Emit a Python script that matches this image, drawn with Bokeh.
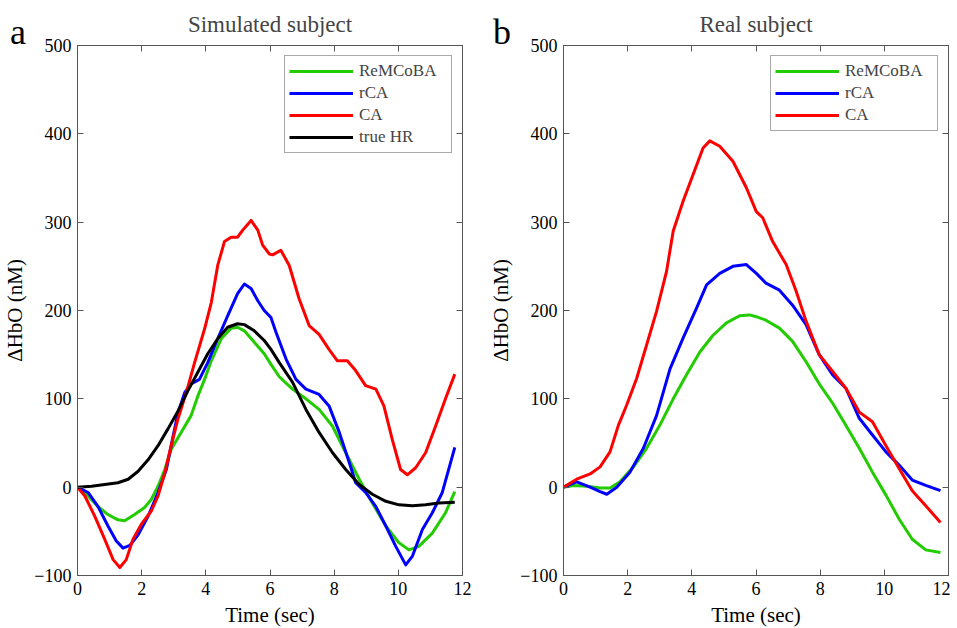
from bokeh.plotting import figure
from bokeh.layouts import row, column
from bokeh.models import (FixedTicker, LinearAxis, Legend, LegendItem, Range1d,
                          CustomLabelingPolicy, Div)
from bokeh.embed import file_html
from bokeh.resources import INLINE

FONT = "Liberation Serif"

# ---------------- data: panel a (simulated subject) ----------------
sim_remcoba_t = [0, 0.33, 0.64, 0.95, 1.26, 1.47, 1.78, 2.09, 2.3, 2.51, 2.72, 2.92, 3.23, 3.54, 3.75, 3.96, 4.17,
                 4.48, 4.79, 4.99, 5.2, 5.51, 5.82, 6.03, 6.29, 6.7, 7.12, 7.53, 7.95, 8.36, 8.78, 9.19, 9.61,
                 10.02, 10.33, 10.64, 11.06, 11.47, 11.76]
sim_remcoba_y = [0, -10, -22, -31, -37, -38, -31, -23, -14, 1, 20, 43, 62, 81, 103, 122, 143,
                 168, 180, 181, 177, 164, 151, 139, 125, 111, 100, 88, 69, 39, 9, -18, -44,
                 -63, -71, -67, -52, -29, -5]

sim_rca_t = [0, 0.33, 0.64, 0.95, 1.21, 1.42, 1.63, 1.89, 2.2, 2.51, 2.77, 2.92, 3.13, 3.34, 3.54, 3.8, 4.06,
             4.37, 4.68, 4.99, 5.2, 5.41, 5.62, 5.82, 6.03, 6.19, 6.5, 6.81, 7.12, 7.53, 7.84, 8.16, 8.47,
             8.67, 8.98, 9.3, 9.61, 9.92, 10.23, 10.44, 10.75, 11.06, 11.37, 11.76]
sim_rca_y = [0, -6, -22, -44, -61, -69, -66, -54, -33, -6, 20, 47, 84, 107, 117, 122, 141,
             168, 194, 219, 230, 225, 211, 200, 192, 175, 145, 122, 111, 105, 92, 62, 28,
             5, -6, -22, -44, -67, -88, -78, -48, -29, -6, 45]

sim_ca_t = [0, 0.23, 0.54, 0.85, 1.11, 1.32, 1.52, 1.73, 1.99, 2.3, 2.51, 2.72, 2.92, 3.13, 3.39, 3.65, 3.96,
            4.17, 4.37, 4.58, 4.79, 4.99, 5.15, 5.41, 5.62, 5.77, 5.98, 6.08, 6.34, 6.6, 6.91, 7.22, 7.53,
            7.84, 8.1, 8.41, 8.67, 8.98, 9.3, 9.55, 9.81, 10.07, 10.28, 10.54, 10.85, 11.16, 11.47, 11.76]
sim_ca_y = [0, -10, -33, -59, -82, -91, -82, -59, -42, -27, -10, 16, 47, 77, 107, 141, 179,
            209, 251, 278, 283, 283, 291, 302, 291, 274, 264, 263, 268, 251, 213, 183, 173,
            156, 143, 143, 132, 115, 111, 92, 54, 20, 14, 22, 39, 69, 100, 128]

sim_hr_t = [0, 0.44, 0.85, 1.26, 1.58, 1.89, 2.2, 2.51, 2.82, 3.13, 3.44, 3.75, 4.06, 4.37, 4.68, 4.99, 5.2,
            5.51, 5.82, 6.03, 6.29, 6.7, 7.12, 7.53, 7.95, 8.36, 8.78, 9.19, 9.61, 10.02, 10.44, 10.85,
            11.26, 11.76]
sim_hr_y = [0, 1, 3, 5, 9, 18, 31, 47, 66, 86, 109, 130, 151, 168, 181, 185, 184,
            177, 166, 156, 141, 119, 88, 62, 39, 20, 3, -8, -16, -20, -21, -20,
            -18, -17]

# ---------------- data: panel b (real subject) ----------------
real_remcoba_t = [0, 0.31, 0.73, 1.14, 1.45, 1.76, 2.18, 2.59, 3.0, 3.42, 3.83, 4.25, 4.66, 5.08, 5.49, 5.8,
                  6.01, 6.31, 6.73, 7.14, 7.56, 7.97, 8.39, 8.8, 9.22, 9.63, 10.05, 10.46, 10.87, 11.29, 11.75]
real_remcoba_y = [0, 2, 1, -1, -1, 6, 23, 44, 70, 100, 127, 153, 172, 186, 194, 195,
                  193, 189, 180, 165, 142, 117, 95, 70, 44, 17, -9, -36, -59, -71, -74]

real_rca_t = [0, 0.41, 0.83, 1.14, 1.35, 1.66, 2.07, 2.49, 2.9, 3.32, 3.73, 4.15, 4.46, 4.87, 5.28, 5.7,
              6.01, 6.31, 6.73, 7.14, 7.56, 7.97, 8.39, 8.8, 9.22, 9.63, 10.05, 10.46, 10.87, 11.29, 11.75]
real_rca_y = [0, 6, 0, -5, -8, 0, 17, 44, 81, 134, 169, 203, 229, 242, 250, 252,
              242, 231, 223, 206, 184, 150, 127, 112, 78, 59, 40, 25, 8, 2, -4]

real_ca_t = [0, 0.41, 0.83, 1.14, 1.45, 1.71, 1.97, 2.28, 2.59, 2.9, 3.21, 3.42, 3.73, 4.04, 4.35, 4.56, 4.87,
             5.28, 5.7, 6.01, 6.21, 6.52, 6.94, 7.25, 7.56, 7.97, 8.39, 8.8, 9.22, 9.63, 10.05, 10.46, 10.87,
             11.29, 11.75]
real_ca_y = [0, 9, 15, 23, 40, 70, 93, 123, 161, 199, 244, 290, 324, 354, 384, 392, 386,
             369, 339, 312, 305, 278, 252, 222, 188, 150, 131, 112, 85, 74, 47, 21, -4,
             -21, -40]

x_ticks = [0, 2, 4, 6, 8, 10, 12]
y_ticks = [-100, 0, 100, 200, 300, 400, 500]
panel_letters = ["a", "b"]

GREEN = "#22cc00"
BLUE = "#0000ff"
RED = "#ff0000"
BLACK = "#000000"
AX = "#555555"


def style_axis(ax, labels=True):
    ax.axis_line_color = AX
    ax.major_tick_line_color = AX
    ax.major_tick_in = 6
    ax.major_tick_out = 0
    ax.minor_tick_line_color = None
    ax.major_label_text_font = FONT
    ax.major_label_text_color = "black"
    ax.axis_label_text_font = FONT
    ax.axis_label_text_font_style = "normal"
    ax.axis_label_text_color = "black"
    ax.axis_label_text_font_size = "21px"
    if labels:
        ax.major_label_text_font_size = "18px"
    else:
        ax.major_label_text_font_size = "0px"
        ax.major_label_standoff = 0
        ax.major_label_policy = CustomLabelingPolicy(code="return []")


def make_panel(title, series, min_left, min_right):
    p = figure(frame_width=385, frame_height=530,
               x_range=Range1d(0, 12), y_range=Range1d(-100, 500),
               output_backend="svg", toolbar_location=None,
               min_border_left=min_left, min_border_right=min_right,
               min_border_top=45, min_border_bottom=10,
               background_fill_color="white", border_fill_color="white")
    p.title.text = title
    p.title.text_font = FONT
    p.title.text_font_size = "23px"
    p.title.text_font_style = "normal"
    p.title.align = "center"
    p.title.vertical_align = "middle"
    p.title.standoff = 15
    p.outline_line_color = AX
    p.grid.visible = False

    p.xaxis.ticker = FixedTicker(ticks=x_ticks)
    p.yaxis.ticker = FixedTicker(ticks=y_ticks)
    p.xaxis.axis_label = "Time (sec)"
    p.yaxis.axis_label = "\u0394HbO (nM)"
    style_axis(p.xaxis[0])
    style_axis(p.yaxis[0])
    p.xaxis.major_label_standoff = 6
    p.xaxis.axis_label_standoff = 5
    p.yaxis.major_label_standoff = 6
    p.yaxis.axis_label_standoff = 4

    top = LinearAxis(ticker=FixedTicker(ticks=x_ticks))
    right = LinearAxis(ticker=FixedTicker(ticks=y_ticks))
    style_axis(top, labels=False)
    style_axis(right, labels=False)
    p.add_layout(top, "above")
    p.add_layout(right, "right")

    items = []
    for name, t, y, color in series:
        r = p.line(t, y, line_color=color, line_width=3, line_join="round")
        items.append(LegendItem(label=name, renderers=[r]))

    legend = Legend(items=items, location="top_right", margin=10,
                    padding=4, spacing=0, label_height=22, glyph_height=22,
                    glyph_width=64, label_standoff=6, label_width=88,
                    label_text_font=FONT, label_text_font_size="17px",
                    border_line_color=AX, border_line_width=1,
                    background_fill_color="white", background_fill_alpha=1)
    p.add_layout(legend, "center")
    return p


p1 = make_panel("Simulated subject", [
    ("ReMCoBA", sim_remcoba_t, sim_remcoba_y, GREEN),
    ("rCA", sim_rca_t, sim_rca_y, BLUE),
    ("CA", sim_ca_t, sim_ca_y, RED),
    ("true HR", sim_hr_t, sim_hr_y, BLACK),
], min_left=68, min_right=17)

p2 = make_panel("Real subject", [
    ("ReMCoBA", real_remcoba_t, real_remcoba_y, GREEN),
    ("rCA", real_rca_t, real_rca_y, BLUE),
    ("CA", real_ca_t, real_ca_y, RED),
], min_left=84, min_right=2)

letter_style = ("position:absolute; top:2px; font-family:'Liberation Serif'; font-size:36px; "
                "line-height:36px; color:black; white-space:nowrap;")
letters_html = ('<div style="position:relative; width:950px; height:0px; overflow:visible;">'
                f'<span style="{letter_style} left:10px;">{panel_letters[0]}</span>'
                f'<span style="{letter_style} left:493px;">{panel_letters[1]}</span>'
                '</div>')
letters = Div(text=letters_html, width=950, height=0, margin=0,
              styles={"overflow": "visible", "z-index": "5"})

layout = column(letters, row(p1, p2))
open("out.html", "w").write(file_html(layout, INLINE))
